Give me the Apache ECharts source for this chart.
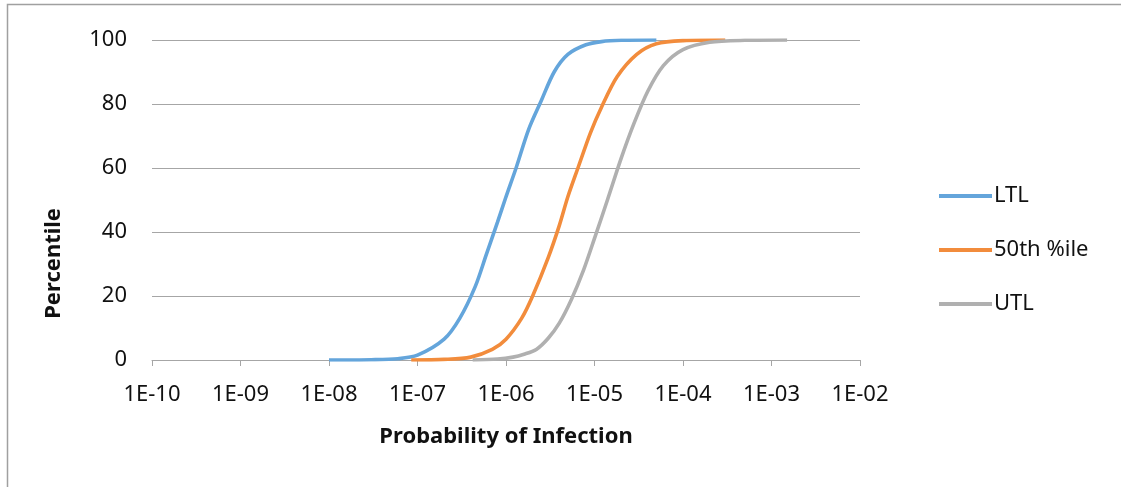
<!DOCTYPE html>
<html lang="en">
<head>
    <meta charset="UTF-8">
    <title>Probability of Infection</title>
    <script src="https://cdn.jsdelivr.net/npm/echarts@6/dist/echarts.min.js"></script>
    <style>
        html, body { margin: 0; padding: 0; background: #fff; }
    </style>
</head>
<body>
<div id="main" style="width: 1121px;height:487px;"></div>
<script type="text/javascript">
    // series names
    var seriesNames = ['LTL', '50th %ile', 'UTL'];
    var seriesColors = ['#64A5DB', '#F28C3C', '#B0B0B0'];

    // x tick labels (decades)
    var xTickLabels = ['1E-10', '1E-09', '1E-08', '1E-07', '1E-06', '1E-05', '1E-04', '1E-03', '1E-02'];

    // probability of infection (x) and percentile (y)
    var ltlX = [1e-8, 3e-8, 6e-8, 1e-7, 2e-7, 3e-7, 4.5e-7, 6e-7, 8e-7, 1e-6, 1.3e-6, 1.8e-6, 2.5e-6, 3.5e-6, 5e-6, 8e-6, 1.2e-5, 2e-5, 5e-5];
    var ltlY = [0, 0.1, 0.4, 1.5, 6.5, 13, 23, 33, 43, 51, 60, 72, 81, 90, 95.5, 98.5, 99.5, 99.9, 100];

    var midX = [8.5e-8, 2e-7, 4e-7, 7e-7, 1e-6, 1.5e-6, 2e-6, 3e-6, 4e-6, 5e-6, 6.5e-6, 9e-6, 1.2e-5, 1.8e-5, 3e-5, 5e-5, 1e-4, 3e-4];
    var midY = [0, 0.2, 0.9, 3.3, 6.5, 13, 20, 32, 42, 51, 60, 71, 79, 88.5, 95.5, 98.8, 99.8, 100];

    var utlX = [4.2e-7, 8e-7, 1.2e-6, 1.6e-6, 2.2e-6, 3e-6, 4e-6, 5.5e-6, 7.5e-6, 1e-5, 1.4e-5, 2e-5, 2.8e-5, 4e-5, 6e-5, 1e-4, 2e-4, 5e-4, 1.5e-3];
    var utlY = [0, 0.3, 0.9, 1.8, 3.3, 6.8, 11.5, 19, 28, 38, 50, 63, 74, 84, 92, 97, 99.3, 99.9, 100];

    function pairs(xs, ys) {
        var out = [];
        for (var i = 0; i < xs.length; i++) out.push([xs[i], ys[i]]);
        return out;
    }

    var allData = [pairs(ltlX, ltlY), pairs(midX, midY), pairs(utlX, utlY)];

    var myChart = echarts.init(document.getElementById('main'));
    var font = 'Noto Sans';
    var gridColor = '#A6A6A6';

    var series = [];
    for (var s = 0; s < seriesNames.length; s++) {
        series.push({
            name: seriesNames[s],
            type: 'line',
            data: allData[s],
            smooth: 0.3,
            showSymbol: false,
            symbol: 'none',
            lineStyle: {width: 3.6, color: seriesColors[s]},
            itemStyle: {color: seriesColors[s]}
        });
    }

    var option = {
        animation: false,
        backgroundColor: '#fff',
        textStyle: {fontFamily: font},
        grid: {left: 152, right: 261, top: 40, bottom: 127, containLabel: false},
        legend: {
            orient: 'vertical',
            left: 934,
            top: 180,
            icon: 'rect',
            itemWidth: 53,
            itemHeight: 4,
            itemGap: 32,
            textStyle: {fontFamily: font, fontSize: 22, color: '#111', padding: [0, 0, 0, -3]},
            data: seriesNames
        },
        xAxis: {
            type: 'log',
            logBase: 10,
            min: 1e-10,
            max: 1e-2,
            splitNumber: 8,
            name: 'Probability of Infection',
            nameLocation: 'middle',
            nameGap: 66,
            nameTextStyle: {fontFamily: font, fontSize: 22, fontWeight: 'bold', color: '#111'},
            axisLine: {show: true, lineStyle: {color: gridColor, width: 1}},
            axisTick: {show: true, length: 6, lineStyle: {color: gridColor}},
            splitLine: {show: false},
            axisLabel: {
                fontFamily: font,
                fontSize: 22,
                color: '#111',
                margin: 24,
                formatter: function (v) {
                    var e = Math.round(Math.log10(v));
                    return xTickLabels[e + 10];
                }
            }
        },
        yAxis: {
            type: 'value',
            min: 0,
            max: 100,
            interval: 20,
            axisLine: {show: false},
            axisTick: {show: false},
            splitLine: {show: true, lineStyle: {color: gridColor, width: 1}},
            axisLabel: {fontFamily: font, fontSize: 22, color: '#111', margin: 25}
        },
        graphic: [
            {
                type: 'rect',
                shape: {x: 7.5, y: 4.5, width: 1300, height: 700},
                style: {fill: 'none', stroke: '#A0A0A0', lineWidth: 1.5},
                silent: true,
                z: -1
            },
            {
                type: 'text',
                left: 43,
                top: 208,
                rotation: Math.PI / 2,
                style: {
                    text: 'Percentile',
                    font: 'bold 22px "Noto Sans"',
                    fill: '#111',
                    x: 0, y: 0
                }
            }
        ],
        series: series
    };
    myChart.setOption(option);
</script>
</body>
</html>
